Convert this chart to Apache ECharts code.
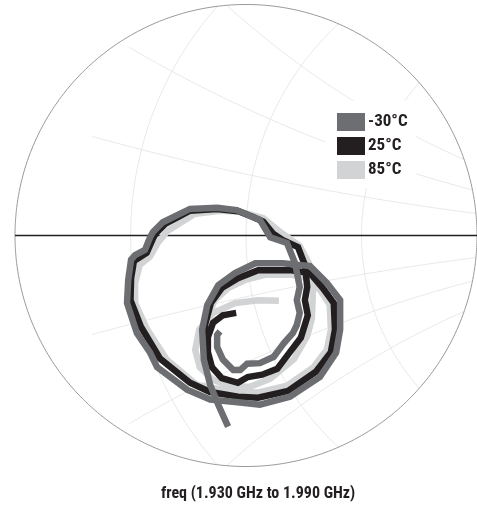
<!DOCTYPE html>
<html>
<head>
<meta charset="utf-8">
<script src="https://cdn.jsdelivr.net/npm/echarts@6/dist/echarts.min.js"></script>
<style>
html,body{margin:0;padding:0;background:#fff;}
#chart{width:477px;height:508px;}
</style>
</head>
<body>
<div id="chart"></div>
<script>
// Reflection coefficient (Re, Im), 1.930 GHz to 1.990 GHz
const seriesNames = ['-30°C', '25°C', '85°C'];
const titleText = 'freq (1.930 GHz to 1.990 GHz)';

const sMinus30 = [
[-0.031,-0.331],[-0.048,-0.293],[-0.062,-0.259],[-0.073,-0.215],[-0.076,-0.163],[-0.067,-0.120],
[-0.048,-0.086],[-0.019,-0.065],[0.016,-0.048],[0.064,-0.048],[0.111,-0.053],[0.140,-0.082],
[0.163,-0.112],[0.163,-0.163],[0.156,-0.203],[0.128,-0.245],[0.076,-0.279],[0.024,-0.293],
[-0.010,-0.289],[-0.062,-0.284],[-0.102,-0.267],[-0.154,-0.228],[-0.166,-0.203],[-0.189,-0.169],
[-0.206,-0.117],[-0.204,-0.077],[-0.199,-0.042],[-0.192,-0.034],[-0.175,-0.025],[-0.166,-0.003],
[-0.161,0.006],[-0.144,0.023],[-0.097,0.046],[-0.050,0.048],[-0.016,0.044],[0.007,0.034],
[0.024,0.027],[0.042,-0.003],[0.071,-0.013],[0.085,-0.048],[0.093,-0.089],[0.088,-0.112],
[0.093,-0.134],[0.088,-0.155],[0.081,-0.169],[0.066,-0.186],[0.048,-0.210],[0.024,-0.221],
[0.002,-0.222],[-0.010,-0.233],[-0.022,-0.233],[-0.040,-0.215],[-0.050,-0.193],[-0.050,-0.172],
[-0.045,-0.166]
];

const s25 = [
[-0.074,-0.195],[-0.071,-0.155],[-0.061,-0.117],[-0.042,-0.091],[-0.014,-0.074],[0.021,-0.060],
[0.076,-0.060],[0.111,-0.065],[0.133,-0.091],[0.152,-0.117],[0.154,-0.163],[0.147,-0.202],
[0.121,-0.236],[0.073,-0.269],[0.021,-0.281],[-0.014,-0.279],[-0.062,-0.271],[-0.097,-0.255],
[-0.149,-0.213],[-0.182,-0.158],[-0.200,-0.112],[-0.199,-0.074],[-0.194,-0.044],[-0.172,-0.030],
[-0.161,-0.005],[-0.155,0.005],[-0.140,0.020],[-0.097,0.043],[-0.050,0.046],[-0.013,0.042],
[0.012,0.032],[0.030,0.024],[0.047,0.003],[0.064,-0.008],[0.090,-0.020],[0.102,-0.051],
[0.106,-0.089],[0.102,-0.112],[0.107,-0.138],[0.095,-0.177],[0.076,-0.202],[0.054,-0.231],
[0.028,-0.241],[0.003,-0.245],[-0.014,-0.255],[-0.042,-0.247],[-0.059,-0.228],[-0.066,-0.202],
[-0.066,-0.176],[-0.057,-0.151],[-0.040,-0.138],[-0.017,-0.134]
];

const s85 = [
[-0.073,-0.177],[-0.066,-0.138],[-0.054,-0.112],[-0.031,-0.091],[-0.002,-0.077],[0.033,-0.068],
[0.080,-0.068],[0.111,-0.075],[0.128,-0.094],[0.145,-0.120],[0.147,-0.163],[0.140,-0.198],
[0.116,-0.229],[0.071,-0.260],[0.021,-0.272],[-0.014,-0.272],[-0.057,-0.264],[-0.085,-0.259],
[-0.137,-0.215],[-0.171,-0.163],[-0.192,-0.117],[-0.192,-0.082],[-0.184,-0.051],[-0.166,-0.036],
[-0.153,-0.013],[-0.136,0.008],[-0.090,0.037],[-0.045,0.043],[-0.010,0.041],[0.030,0.030],
[0.062,0.004],[0.093,-0.018],[0.109,-0.048],[0.116,-0.094],[0.114,-0.144],[0.106,-0.174],
[0.083,-0.214],[0.042,-0.248],[0.007,-0.262],[-0.022,-0.262],[-0.057,-0.250],[-0.080,-0.228],
[-0.088,-0.198],[-0.081,-0.163],[-0.057,-0.134],[-0.019,-0.117],[0.021,-0.112],[0.057,-0.113]
];

// Smith chart grid (zoomed to |Gamma| <= 0.4)
const gammaMax = 0.4;
const rCircles = [0.667, 1, 1.5];
const xArcs = [0.21, 0.42, 0.65];
const xArcMinR = [0.55, 0.55, 0];

function inDisc(u, v) { return u*u + v*v <= gammaMax*gammaMax + 1e-9; }
function rOf(u, v) { const d = (1-u)*(1-u) + v*v; return (1 - u*u - v*v) / d; }

function rArc(r) {
  const c = r/(1+r), R = 1/(1+r), pts = [];
  for (let t = 0; t <= 2*Math.PI; t += 0.001) {
    const u = c + R*Math.cos(t), v = R*Math.sin(t);
    if (inDisc(u, v)) pts.push([u, v]);
  }
  return pts;
}
function xArc(x, minR, sign) {
  const R = 1/x, pts = [];
  for (let p = Math.PI/2; p <= 1.5*Math.PI; p += 0.0002) {
    const u = 1 + R*Math.cos(p), v = R + R*Math.sin(p);
    if (inDisc(u, v) && rOf(u, v) >= minR) pts.push([u, sign*v]);
  }
  return pts;
}
const outer = [];
for (let i = 0; i <= 720; i++) { const a = i/720*2*Math.PI; outer.push([gammaMax*Math.cos(a), gammaMax*Math.sin(a)]); }

function gridSeries(data, color, width, z) {
  return { type: 'line', data: data, showSymbol: false, silent: true, animation: false,
    lineStyle: { color: color, width: width }, z: z, clip: false, legendHoverLink: false };
}

const series = [];
rCircles.forEach(r => series.push(gridSeries(rArc(r), '#e2e2e2', 0.8, 1)));
xArcs.forEach((x, i) => {
  series.push(gridSeries(xArc(x, xArcMinR[i], 1), '#e2e2e2', 0.8, 1));
  series.push(gridSeries(xArc(x, xArcMinR[i], -1), '#e2e2e2', 0.8, 1));
});
series.push(gridSeries(outer, '#9a9a9a', 1, 1));
series.push(gridSeries([[-gammaMax, 0], [gammaMax, 0]], '#231f20', 1.3, 1));

const colors = { '-30°C': '#6d6e71', '25°C': '#231f20', '85°C': '#d1d3d4' };
function dataSeries(name, data, z) {
  return { name: name, type: 'line', data: data, showSymbol: false, animation: false, z: z,
    itemStyle: { color: colors[name] },
    lineStyle: { color: colors[name], width: 6.5, join: 'miter', cap: 'butt' } };
}
series.push(dataSeries('85°C', s85, 3));
series.push(dataSeries('25°C', s25, 4));
series.push(dataSeries('-30°C', sMinus30, 5));

const font = "'Liberation Sans Narrow', 'Roboto Condensed', Roboto, sans-serif";
const chart = echarts.init(document.getElementById('chart'), null, { renderer: 'canvas' });
chart.setOption({
  backgroundColor: '#fff',
  animation: false,
  title: { text: titleText, left: 161, top: 486,
    textStyle: { fontFamily: font, fontWeight: 'bold', fontSize: 16, color: '#231f20' }, padding: 0 },
  legend: {
    data: seriesNames.map(n => ({ name: n, icon: 'rect', itemStyle: { color: colors[n], borderWidth: 0 } })),
    orient: 'vertical', left: 325, top: 101, padding: [12, 8, 9, 12],
    itemWidth: 28, itemHeight: 18, itemGap: 6, backgroundColor: '#fff', z: 10,
    selectedMode: false,
    textStyle: { fontFamily: font, fontWeight: 'bold', fontSize: 17, color: '#231f20', padding: [0, 0, 0, -2] }
  },
  grid: { left: 15, top: 4.5, width: 462, height: 462, containLabel: false },
  xAxis: { type: 'value', min: -gammaMax, max: gammaMax, show: false },
  yAxis: { type: 'value', min: -gammaMax, max: gammaMax, show: false },
  series: series
});
</script>
</body>
</html>
